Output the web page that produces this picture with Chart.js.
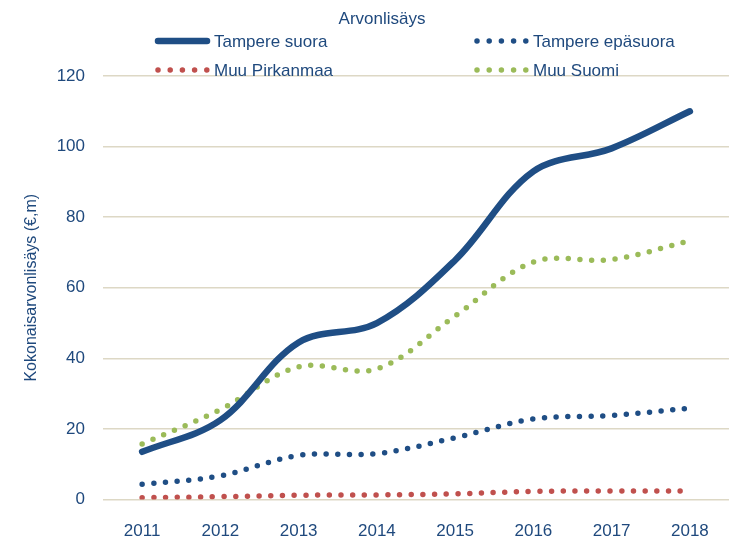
<!DOCTYPE html>
<html>
<head>
<meta charset="utf-8">
<script src="https://cdn.jsdelivr.net/npm/chart.js@4/dist/chart.umd.min.js"></script>
<style>
  html, body { margin: 0; padding: 0; background: #fff; }
  #wrap { width: 731px; height: 540px; }
</style>
</head>
<body>
<div id="wrap"><canvas id="myChart"></canvas></div>
<script>
const years = ['2011', '2012', '2013', '2014', '2015', '2016', '2017', '2018'];
const tampereSuora = [13.5, 22.5, 44.5, 50, 67.8, 93, 99.5, 110];
const tampereEpasuora = [4.3, 6.7, 12.5, 13, 17.5, 22.8, 23.8, 25.9];
const muuPirkanmaa = [0.5, 0.8, 1.2, 1.3, 1.6, 2.3, 2.4, 2.4];
const muuSuomi = [15.7, 25.5, 37.6, 37, 52, 67.3, 68, 73.3];
const yTicks = [0, 20, 40, 60, 80, 100, 120];

const textColor = '#1f497d';
const font = 'Liberation Sans';

const dotted = [0, 11.7];

const data = {
  labels: years,
  datasets: [
    { label: 'Tampere suora', data: tampereSuora, borderColor: '#1f4e85', borderWidth: 6.5 },
    { label: 'Tampere epäsuora', data: tampereEpasuora, borderColor: '#1f4e85', borderWidth: 5.5, borderDash: dotted },
    { label: 'Muu Pirkanmaa', data: muuPirkanmaa, borderColor: '#c0504d', borderWidth: 5.5, borderDash: dotted },
    { label: 'Muu Suomi', data: muuSuomi, borderColor: '#9bbb59', borderWidth: 5.5, borderDash: dotted }
  ]
};

// title + two-column legend, drawn like the original
const topLegend = {
  id: 'topLegend',
  afterDraw(chart) {
    const ctx = chart.ctx;
    ctx.save();
    ctx.fillStyle = textColor;
    ctx.font = '17px "' + font + '"';
    ctx.textBaseline = 'middle';
    ctx.textAlign = 'center';
    ctx.fillText('Arvonlisäys', 382, 19);
    ctx.textAlign = 'left';
    const spots = [[157, 41], [476, 41], [157, 70], [476, 70]];
    chart.data.datasets.forEach((ds, i) => {
      const [x, y] = spots[i];
      ctx.beginPath();
      ctx.strokeStyle = ds.borderColor;
      ctx.lineCap = 'round';
      if (ds.borderDash) {
        ctx.lineWidth = 5.5;
        ctx.setLineDash([0, 12.2]);
      } else {
        ctx.lineWidth = 6.5;
        ctx.setLineDash([]);
      }
      ctx.moveTo(x + 1, y);
      ctx.lineTo(x + 50, y);
      ctx.stroke();
      ctx.fillText(ds.label, x + 57, y + 1);
    });
    ctx.restore();
  }
};

const config = {
  type: 'line',
  data: data,
  options: {
    responsive: true,
    maintainAspectRatio: false,
    animation: false,
    layout: { padding: { top: 76, right: 2, left: 0, bottom: 0 } },
    elements: {
      point: { radius: 0 },
      line: { tension: 0.35, borderCapStyle: 'round', borderJoinStyle: 'round', fill: false }
    },
    plugins: {
      legend: { display: false },
      title: { display: false },
      tooltip: { enabled: false }
    },
    scales: {
      x: {
        offset: true,
        grid: { display: false },
        border: { display: false },
        ticks: { color: textColor, font: { family: font, size: 17 }, padding: 14, maxRotation: 0 },
        afterFit(scale) { scale.height = 40.5; }
      },
      y: {
        min: 0,
        max: 120,
        afterBuildTicks(scale) { scale.ticks = yTicks.map(v => ({ value: v })); },
        grid: { color: '#ddd8c5', lineWidth: 1.5, drawTicks: false },
        border: { display: false },
        ticks: { color: textColor, font: { family: font, size: 17 }, padding: 18 },
        title: {
          display: true,
          text: 'Kokonaisarvonlisäys (€,m)',
          color: textColor,
          font: { family: font, size: 16 },
          padding: { top: 22, bottom: 0 }
        },
        afterFit(scale) { scale.width = 103; }
      }
    }
  },
  plugins: [topLegend]
};

const myChart = new Chart(document.getElementById('myChart'), config);
</script>
</body>
</html>
